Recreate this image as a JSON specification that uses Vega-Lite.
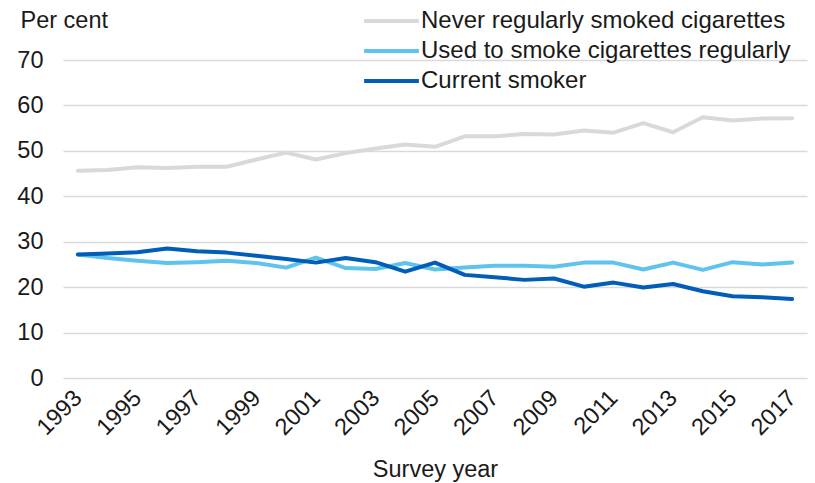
{
  "$schema": "https://vega.github.io/schema/vega-lite/v6.json",
  "width": 744,
  "height": 318,
  "autosize": {"type": "none"},
  "padding": {"left": 63, "top": 60, "right": 8, "bottom": 105},
  "background": "white",
  "config": {
    "font": "Liberation Sans",
    "view": {"stroke": null}
  },
  "data": {
    "values": [
      {"year": "1993", "series": "Never regularly smoked cigarettes", "value": 45.6},
      {"year": "1994", "series": "Never regularly smoked cigarettes", "value": 45.8},
      {"year": "1995", "series": "Never regularly smoked cigarettes", "value": 46.4},
      {"year": "1996", "series": "Never regularly smoked cigarettes", "value": 46.2},
      {"year": "1997", "series": "Never regularly smoked cigarettes", "value": 46.5},
      {"year": "1998", "series": "Never regularly smoked cigarettes", "value": 46.5},
      {"year": "1999", "series": "Never regularly smoked cigarettes", "value": 48.1},
      {"year": "2000", "series": "Never regularly smoked cigarettes", "value": 49.6},
      {"year": "2001", "series": "Never regularly smoked cigarettes", "value": 48.1},
      {"year": "2002", "series": "Never regularly smoked cigarettes", "value": 49.5},
      {"year": "2003", "series": "Never regularly smoked cigarettes", "value": 50.5},
      {"year": "2004", "series": "Never regularly smoked cigarettes", "value": 51.4},
      {"year": "2005", "series": "Never regularly smoked cigarettes", "value": 50.9},
      {"year": "2006", "series": "Never regularly smoked cigarettes", "value": 53.2},
      {"year": "2007", "series": "Never regularly smoked cigarettes", "value": 53.2},
      {"year": "2008", "series": "Never regularly smoked cigarettes", "value": 53.7},
      {"year": "2009", "series": "Never regularly smoked cigarettes", "value": 53.6},
      {"year": "2010", "series": "Never regularly smoked cigarettes", "value": 54.5},
      {"year": "2011", "series": "Never regularly smoked cigarettes", "value": 54.0},
      {"year": "2012", "series": "Never regularly smoked cigarettes", "value": 56.1},
      {"year": "2013", "series": "Never regularly smoked cigarettes", "value": 54.1},
      {"year": "2014", "series": "Never regularly smoked cigarettes", "value": 57.4},
      {"year": "2015", "series": "Never regularly smoked cigarettes", "value": 56.7},
      {"year": "2016", "series": "Never regularly smoked cigarettes", "value": 57.1},
      {"year": "2017", "series": "Never regularly smoked cigarettes", "value": 57.2},
      {"year": "1993", "series": "Used to smoke cigarettes regularly", "value": 27.2},
      {"year": "1994", "series": "Used to smoke cigarettes regularly", "value": 26.4},
      {"year": "1995", "series": "Used to smoke cigarettes regularly", "value": 25.8},
      {"year": "1996", "series": "Used to smoke cigarettes regularly", "value": 25.3},
      {"year": "1997", "series": "Used to smoke cigarettes regularly", "value": 25.5},
      {"year": "1998", "series": "Used to smoke cigarettes regularly", "value": 25.8},
      {"year": "1999", "series": "Used to smoke cigarettes regularly", "value": 25.3},
      {"year": "2000", "series": "Used to smoke cigarettes regularly", "value": 24.3},
      {"year": "2001", "series": "Used to smoke cigarettes regularly", "value": 26.5},
      {"year": "2002", "series": "Used to smoke cigarettes regularly", "value": 24.2},
      {"year": "2003", "series": "Used to smoke cigarettes regularly", "value": 24.0},
      {"year": "2004", "series": "Used to smoke cigarettes regularly", "value": 25.3},
      {"year": "2005", "series": "Used to smoke cigarettes regularly", "value": 23.9},
      {"year": "2006", "series": "Used to smoke cigarettes regularly", "value": 24.3},
      {"year": "2007", "series": "Used to smoke cigarettes regularly", "value": 24.7},
      {"year": "2008", "series": "Used to smoke cigarettes regularly", "value": 24.7},
      {"year": "2009", "series": "Used to smoke cigarettes regularly", "value": 24.5},
      {"year": "2010", "series": "Used to smoke cigarettes regularly", "value": 25.4},
      {"year": "2011", "series": "Used to smoke cigarettes regularly", "value": 25.4},
      {"year": "2012", "series": "Used to smoke cigarettes regularly", "value": 23.9},
      {"year": "2013", "series": "Used to smoke cigarettes regularly", "value": 25.4},
      {"year": "2014", "series": "Used to smoke cigarettes regularly", "value": 23.8},
      {"year": "2015", "series": "Used to smoke cigarettes regularly", "value": 25.5},
      {"year": "2016", "series": "Used to smoke cigarettes regularly", "value": 25.0},
      {"year": "2017", "series": "Used to smoke cigarettes regularly", "value": 25.4},
      {"year": "1993", "series": "Current smoker", "value": 27.2},
      {"year": "1994", "series": "Current smoker", "value": 27.4},
      {"year": "1995", "series": "Current smoker", "value": 27.7},
      {"year": "1996", "series": "Current smoker", "value": 28.5},
      {"year": "1997", "series": "Current smoker", "value": 27.9},
      {"year": "1998", "series": "Current smoker", "value": 27.6},
      {"year": "1999", "series": "Current smoker", "value": 26.9},
      {"year": "2000", "series": "Current smoker", "value": 26.2},
      {"year": "2001", "series": "Current smoker", "value": 25.4},
      {"year": "2002", "series": "Current smoker", "value": 26.4},
      {"year": "2003", "series": "Current smoker", "value": 25.5},
      {"year": "2004", "series": "Current smoker", "value": 23.4},
      {"year": "2005", "series": "Current smoker", "value": 25.4},
      {"year": "2006", "series": "Current smoker", "value": 22.7},
      {"year": "2007", "series": "Current smoker", "value": 22.2},
      {"year": "2008", "series": "Current smoker", "value": 21.6},
      {"year": "2009", "series": "Current smoker", "value": 21.9},
      {"year": "2010", "series": "Current smoker", "value": 20.1},
      {"year": "2011", "series": "Current smoker", "value": 21.0},
      {"year": "2012", "series": "Current smoker", "value": 19.9},
      {"year": "2013", "series": "Current smoker", "value": 20.7},
      {"year": "2014", "series": "Current smoker", "value": 19.1},
      {"year": "2015", "series": "Current smoker", "value": 18.0},
      {"year": "2016", "series": "Current smoker", "value": 17.8},
      {"year": "2017", "series": "Current smoker", "value": 17.4}
    ]
  },
  "mark": {"type": "line", "strokeWidth": 4, "strokeJoin": "round", "strokeCap": "round"},
  "encoding": {
    "x": {
      "field": "year",
      "type": "ordinal",
      "scale": {"type": "point", "padding": 0.5},
      "axis": {
        "title": "Survey year",
        "titleFontSize": 23.5,
        "titleFontWeight": "normal",
        "titleColor": "#1a1a1a",
        "titlePadding": 18,
        "values": ["1993", "1995", "1997", "1999", "2001", "2003", "2005", "2007", "2009", "2011", "2013", "2015", "2017"],
        "labelAngle": -45,
        "labelAlign": "right",
        "labelBaseline": "middle",
        "labelFontSize": 23.5,
        "labelColor": "#1a1a1a",
        "labelPadding": 16,
        "ticks": false,
        "domain": false,
        "grid": false
      }
    },
    "y": {
      "field": "value",
      "type": "quantitative",
      "scale": {"domain": [0, 70]},
      "axis": {
        "title": "Per cent",
        "titleAngle": 0,
        "titleAlign": "left",
        "titleBaseline": "alphabetic",
        "titleX": -43,
        "titleY": -33,
        "titleFontSize": 23.5,
        "titleFontWeight": "normal",
        "titleColor": "#1a1a1a",
        "values": [0, 10, 20, 30, 40, 50, 60, 70],
        "labelFontSize": 23.5,
        "labelColor": "#1a1a1a",
        "labelPadding": 20,
        "ticks": false,
        "domain": false,
        "grid": true,
        "gridColor": "#d9d9d9",
        "gridWidth": 1.5
      }
    },
    "color": {
      "field": "series",
      "type": "nominal",
      "scale": {
        "domain": ["Never regularly smoked cigarettes", "Used to smoke cigarettes regularly", "Current smoker"],
        "range": ["#d9d9d9", "#5fc3ec", "#005eb8"]
      },
      "legend": {
        "title": null,
        "orient": "none",
        "legendX": 299,
        "legendY": -52,
        "symbolType": "stroke",
        "symbolStrokeWidth": 4,
        "symbolSize": 3000,
        "clipHeight": 26,
        "labelFontSize": 24,
        "labelColor": "#1a1a1a",
        "labelOffset": 0,
        "rowPadding": 4,
        "labelLimit": 500
      }
    }
  }
}
